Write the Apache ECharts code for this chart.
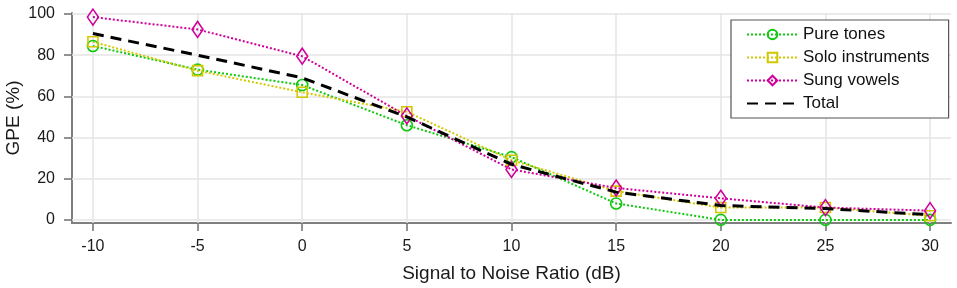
<!DOCTYPE html>
<html>
<head>
<meta charset="utf-8">
<script src="https://cdn.jsdelivr.net/npm/echarts@6/dist/echarts.min.js"></script>
<style>html,body{margin:0;padding:0;background:#fff}#c{width:957px;height:288px}</style>
</head>
<body>
<div id="c"></div>
<script>
var snr = [-10, -5, 0, 5, 10, 15, 20, 25, 30];
var pureTones = [84.5, 73, 65.5, 46, 30.5, 8, 0, 0, 0];
var soloInstruments = [86.5, 72.5, 62, 52.5, 29, 14, 6, 6, 2];
var sungVowels = [98.5, 92.5, 79.5, 50.5, 24.5, 15.5, 10.5, 6, 4.5];
var total = [90.5, 80, 69, 50, 27, 13.5, 7, 5.5, 2.5];
var xTicks = [-10, -5, 0, 5, 10, 15, 20, 25, 30];
var yTicks = [0, 20, 40, 60, 80, 100];

function pairs(xs, ys) { return xs.map(function (x, i) { return [x, ys[i]]; }); }

var FONT = 'Liberation Sans';
var GREEN = '#10c810', YELLOW = '#d2c800', MAGENTA = '#d0009a';

function dotted(name, data, color, symbol, size) {
  return {
    name: name, type: 'line', data: pairs(snr, data), z: 3,
    symbol: symbol, symbolSize: size, showSymbol: true,
    lineStyle: { color: color, width: 2, type: [2, 2] },
    itemStyle: { color: 'rgba(255,255,255,0)', borderColor: color, borderWidth: 1.6 },
    emphasis: { disabled: true }, animation: false
  };
}

var gridLines = [];
xTicks.forEach(function (v) { gridLines.push({ xAxis: v }); });
yTicks.forEach(function (v) { gridLines.push({ yAxis: v }); });

var chart = echarts.init(document.getElementById('c'), null, { renderer: 'canvas' });
chart.setOption({
  animation: false,
  textStyle: { fontFamily: FONT },
  grid: { left: 72, right: 6, top: 13, bottom: 65, containLabel: false, outerBoundsMode: 'none' },
  xAxis: {
    type: 'value', min: -11, max: 31,
    name: 'Signal to Noise Ratio (dB)', nameLocation: 'middle', nameGap: 41, nameMoveOverlap: false,
    nameTextStyle: { fontFamily: FONT, fontSize: 19, color: '#1a1a1a' },
    axisLine: { show: true, onZero: false, lineStyle: { color: '#7f7f7f', width: 2 } },
    axisTick: { show: true, length: 8, customValues: xTicks, lineStyle: { color: '#6f6f6f', width: 1.5 } },
    axisLabel: { customValues: xTicks, margin: 16, fontSize: 16, fontFamily: FONT, color: '#1a1a1a' },
    splitLine: { show: false }
  },
  yAxis: {
    type: 'value', min: -1.5, max: 100.5,
    name: 'GPE (%)', nameLocation: 'middle', nameGap: 49, nameRotate: 90, nameMoveOverlap: false,
    nameTextStyle: { fontFamily: FONT, fontSize: 19, color: '#1a1a1a' },
    axisLine: { show: true, onZero: false, lineStyle: { color: '#7f7f7f', width: 2 } },
    axisTick: { show: true, length: 8, customValues: yTicks, lineStyle: { color: '#6f6f6f', width: 1.5 } },
    axisLabel: { customValues: yTicks, margin: 17, fontSize: 16, fontFamily: FONT, color: '#1a1a1a' },
    splitLine: { show: false }
  },
  legend: {
    orient: 'vertical', left: 731, top: 20, z: 10,
    padding: [6, 19, 6, 15],
    backgroundColor: '#fff', borderColor: '#555', borderWidth: 1.2, borderRadius: 0,
    itemWidth: 51, itemHeight: 12, itemGap: 6,
    textStyle: { fontFamily: FONT, fontSize: 17, color: '#111' },
    data: ['Pure tones', 'Solo instruments', 'Sung vowels',
      { name: 'Total', itemStyle: { color: 'rgba(0,0,0,0)', borderWidth: 0, opacity: 0 } }]
  },
  series: [
    {
      name: 'grid', type: 'line', data: [], z: 1, silent: true,
      markLine: {
        silent: true, z: 1, symbol: ['none', 'none'], label: { show: false },
        lineStyle: { color: '#e4e4e4', width: 1.5, type: 'solid' },
        emphasis: { disabled: true }, animation: false,
        data: gridLines
      }
    },
    dotted('Pure tones', pureTones, GREEN, 'circle', 11),
    dotted('Solo instruments', soloInstruments, YELLOW, 'rect', 10),
    dotted('Sung vowels', sungVowels, MAGENTA, 'diamond', [11, 16]),
    {
      name: 'Total', type: 'line', data: pairs(snr, total), z: 4,
      symbol: 'none', showSymbol: false,
      lineStyle: { color: '#000', width: 3, type: [11, 7] },
      itemStyle: { color: '#000' },
      emphasis: { disabled: true }, animation: false
    }
  ]
});
</script>
</body>
</html>
